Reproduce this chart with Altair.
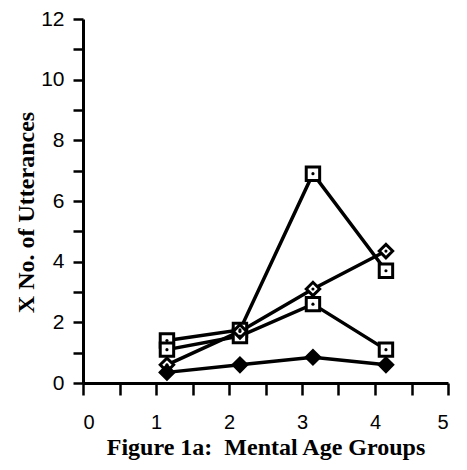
import altair as alt
import pandas as pd

groups = [1.15, 2.15, 3.15, 4.15]
series_names = ["A", "B", "C", "D"]
series_a = [1.4, 1.75, 6.9, 3.7]
series_b = [1.1, 1.55, 2.6, 1.1]
series_c = [0.6, 1.7, 3.1, 4.35]
series_d = [0.35, 0.6, 0.85, 0.6]
shapes = {"A": "square", "B": "square", "C": "diamond", "D": "diamond"}
filled = {"A": False, "B": False, "C": False, "D": True}

rows = []
for name, vals in zip(series_names, [series_a, series_b, series_c, series_d]):
    for g, v in zip(groups, vals):
        rows.append({"series": name, "x": g, "y": v, "shape": shapes[name],
                     "filled": filled[name]})
df = pd.DataFrame(rows)

x_ticks = [i * 0.5 for i in range(11)]
y_ticks = list(range(13))

x = alt.X("x:Q", scale=alt.Scale(domain=[0, 5], nice=False, zero=False),
          axis=alt.Axis(values=x_ticks,
                        labelExpr="datum.value % 1 == 0 ? format(datum.value, 'd') : ''",
                        title="Figure 1a:\u00a0 Mental Age Groups", grid=False,
                        tickSize=12, tickWidth=2.5, domainWidth=3, labelPadding=17,
                        labelFontSize=20, labelFont="Liberation Sans", labelColor="black",
                        titleFont="Liberation Serif", titleFontSize=24, titleFontWeight="bold",
                        titlePadding=3, titleColor="black", domainColor="black", tickColor="black"))
y = alt.Y("y:Q", scale=alt.Scale(domain=[0, 12], nice=False),
          axis=alt.Axis(values=y_ticks,
                        labelExpr="datum.value % 2 == 0 ? format(datum.value, 'd') : ''",
                        title="X No. of Utterances", grid=False,
                        tickSize=10, tickWidth=2.5, domainWidth=3, labelPadding=9,
                        labelFontSize=21, labelFont="Liberation Sans", labelColor="black",
                        titleFont="Liberation Serif", titleFontSize=24, titleFontWeight="bold",
                        titlePadding=2, titleY=193, titleColor="black", domainColor="black",
                        tickColor="black"))

base = alt.Chart(df)
lines = base.mark_line(color="black", strokeWidth=3.5).encode(x=x, y=y, detail="series:N")
points = base.mark_point(stroke="black", strokeWidth=3, size=180, opacity=1).encode(
    x=x, y=y,
    shape=alt.Shape("shape:N", scale=None),
    fill=alt.condition("datum.filled", alt.value("black"), alt.value("white")),
)
dots = base.transform_filter("!datum.filled").mark_point(
    shape="circle", filled=True, color="black", size=10, opacity=1).encode(x=x, y=y)

chart = alt.layer(lines, points, dots).properties(
    width=365, height=364,
    autosize=alt.AutoSizeParams(type="none"),
    padding={"left": 75, "top": 11, "right": 10, "bottom": 82},
).configure_view(stroke=None)

chart.save("out.html", embed_options={"renderer": "svg", "actions": False})
